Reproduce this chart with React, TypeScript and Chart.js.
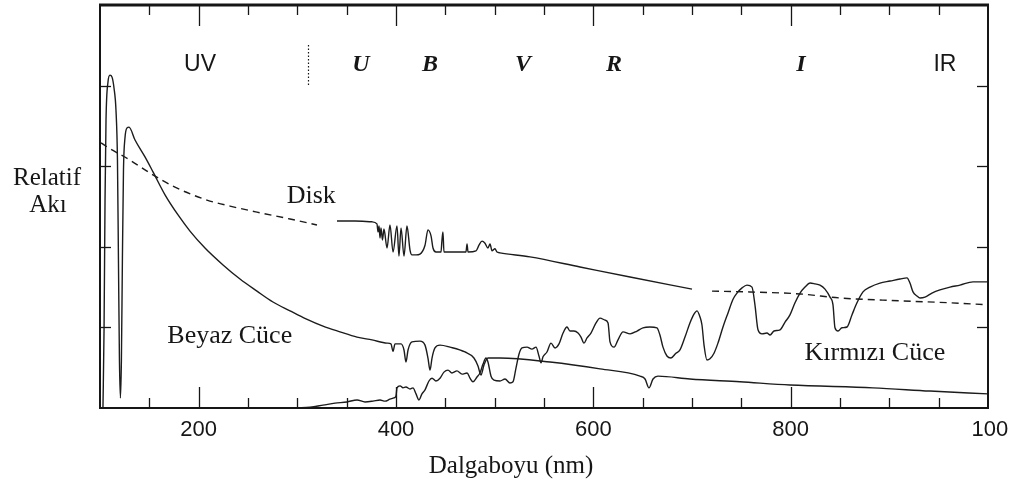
import { useEffect, useRef } from "react";
import { Chart, registerables } from "chart.js";

Chart.register(...registerables);

// Wavelength (nm) and relative flux for the white dwarf spectrum
const whiteDwarfNm = [
  103.0, 104.1, 105.1, 106.1, 108.1, 110.1, 112.2, 114.2, 116.2, 117.7, 118.7, 119.7, 120.7,
  121.7, 122.7, 123.8, 125.3, 127.4, 129.4, 135.5, 145.6, 153.7, 165.9, 179.1, 191.2, 206.4,
  224.7, 241.9, 259.1, 275.3, 292.6, 308.8, 326.0, 343.2, 360.5, 375.7, 390.9, 394.9, 397.0,
  399.0, 405.1, 408.1, 410.1, 412.2, 416.2, 424.3, 429.4, 432.4, 434.5, 436.5, 439.5, 444.6,
  454.7, 469.9, 479.0, 483.1, 486.1, 489.2, 493.2, 505.4, 556.1, 606.8, 647.3, 652.4, 656.4,
  660.5, 665.5, 697.9, 748.6, 799.3, 883.4, 941.2, 1000.0,
];
const whiteDwarfFlux = [
  0, 19.4, 51.6, 71.5, 80.9, 82.6, 82.1, 79.4, 73.9, 61.5, 36.7, 11.9, 2.5,
  11.9, 36.7, 59.1, 67.0, 69.5, 69.7, 66.5, 62.3, 58.6, 52.9, 47.9, 43.9, 39.7,
  35.5, 32.0, 29.0, 26.3, 24.1, 22.1, 20.3, 18.9, 17.6, 16.9, 16.1, 15.9, 14.1,
  15.9, 15.9, 14.4, 11.4, 14.4, 16.4, 16.6, 15.6, 12.4, 9.4, 12.4, 14.9, 15.6,
  15.1, 13.9, 12.4, 10.4, 8.2, 10.7, 12.4, 12.4, 11.4, 9.7, 7.9, 7.2, 5.0,
  7.2, 7.9, 7.2, 6.5, 5.7, 5.0, 4.2, 3.5,
];

// Disk: extrapolated ultraviolet part (dashed)
const diskUvNm = [101.0, 107.1, 130.4, 150.7, 176.0, 208.4, 231.8, 259.1, 292.6, 319.9];
const diskUvFlux = [65.8, 64.8, 61.5, 58.3, 54.8, 51.6, 50.1, 48.6, 46.9, 45.4];

// Disk: measured optical part (solid)
const diskOptNm = [
  340.2, 358.4, 375.7, 380.7, 381.8, 382.8, 383.8, 384.8, 386.3, 387.8, 390.9, 393.9, 397.0,
  401.0, 403.0, 405.1, 408.1, 411.1, 414.2, 416.2, 420.3, 424.3, 429.4, 432.4, 435.5, 437.5,
  440.5, 445.6, 446.6, 447.6, 448.6, 470.9, 472.0, 473.0, 481.1, 484.1, 487.2, 490.2, 493.2,
  495.3, 497.3, 500.3, 502.4, 505.4, 535.8, 586.5, 637.2, 700.0,
];
const diskOptFlux = [
  46.4, 46.4, 46.2, 45.7, 43.7, 45.2, 42.2, 44.7, 41.7, 44.4, 39.7, 45.4, 38.7,
  45.2, 37.7, 44.7, 37.7, 45.2, 39.2, 38.0, 38.0, 38.2, 40.4, 44.2, 42.7, 39.7,
  38.7, 38.7, 41.7, 43.7, 38.7, 38.7, 40.7, 38.7, 39.0, 40.4, 41.4, 40.9, 39.7,
  40.7, 39.0, 39.5, 38.7, 38.5, 37.5, 35.0, 32.5, 29.5,
];

// Disk: extrapolated infrared part (dashed)
const diskIrNm = [720.3, 758.8, 809.5, 850.0, 910.8, 961.5, 1000.0];
const diskIrFlux = [29.0, 28.8, 28.3, 27.3, 26.6, 26.1, 25.6];

// Red dwarf spectrum
const redDwarfNm = [
  299.7, 312.8, 326.0, 338.2, 350.3, 360.5, 368.6, 376.7, 383.8, 388.9, 393.9, 398.0, 400.0,
  401.0, 404.1, 407.1, 410.1, 414.2, 417.2, 420.3, 423.3, 426.3, 429.4, 433.4, 436.5, 440.5,
  444.6, 448.6, 452.7, 456.7, 461.8, 466.9, 472.0, 475.0, 478.0, 482.1, 485.1, 488.2, 491.2,
  493.2, 496.3, 499.3, 505.4, 510.5, 515.5, 518.6, 521.6, 524.7, 527.7, 532.8, 537.8, 541.9,
  544.9, 547.0, 549.0, 553.0, 557.1, 561.2, 565.2, 569.3, 573.3, 576.3, 580.4, 584.5, 587.5,
  590.5, 593.6, 597.6, 602.7, 606.8, 611.8, 614.9, 616.9, 621.0, 625.0, 630.1, 637.2, 644.3,
  650.3, 657.4, 664.5, 667.5, 670.6, 674.6, 678.7, 683.7, 687.8, 692.9, 697.9, 702.0, 705.1,
  708.1, 710.1, 712.2, 715.2, 718.2, 722.3, 726.3, 731.4, 736.5, 741.6, 745.6, 750.7, 755.7,
  760.8, 763.8, 766.9, 770.9, 776.0, 779.1, 783.1, 789.2, 794.3, 799.3, 804.4, 809.5, 814.5,
  819.6, 824.7, 829.7, 834.8, 839.9, 842.9, 844.9, 848.0, 852.0, 857.1, 862.1, 867.2, 873.3,
  880.4, 890.5, 900.7, 910.8, 917.9, 920.9, 924.0, 928.0, 931.1, 936.1, 943.2, 951.3, 961.5,
  971.6, 984.8, 1000.0,
];
const redDwarfFlux = [
  0, 0.2, 0.7, 1.2, 1.5, 2.0, 1.5, 1.7, 2.0, 1.7, 2.2, 2.5, 3.0,
  5.0, 5.5, 5.0, 5.2, 4.7, 5.0, 3.5, 2.0, 3.5, 4.5, 6.7, 7.4, 6.7,
  7.4, 8.9, 9.4, 8.7, 9.2, 8.4, 8.7, 7.4, 6.5, 7.7, 8.7, 10.9, 12.4,
  11.4, 7.9, 6.9, 6.7, 7.2, 6.2, 6.5, 9.9, 13.4, 14.9, 15.1, 14.6, 15.1,
  12.9, 11.2, 12.7, 13.9, 16.1, 14.9, 15.9, 18.6, 20.1, 19.1, 19.1, 18.6, 17.6,
  16.1, 17.4, 18.6, 21.1, 22.3, 21.8, 21.1, 16.4, 15.1, 16.9, 18.9, 18.4, 19.1,
  19.9, 20.1, 19.9, 18.1, 15.1, 12.9, 12.4, 13.6, 14.4, 17.6, 21.1, 23.3, 24.1,
  22.6, 20.6, 15.6, 11.9, 12.2, 13.6, 16.1, 20.1, 23.6, 27.0, 28.5, 29.8, 30.5,
  30.0, 25.6, 19.4, 18.4, 18.6, 18.1, 19.1, 19.4, 21.3, 23.1, 26.1, 28.5, 30.0,
  31.0, 30.8, 30.5, 29.5, 27.5, 25.6, 19.9, 19.1, 19.9, 20.1, 23.1, 26.1, 28.8,
  30.0, 31.0, 31.5, 32.0, 32.3, 31.0, 28.8, 27.8, 27.3, 27.5, 28.5, 29.3, 30.0,
  30.5, 31.3, 31.3,
];

// Axes
const xMin = 100;
const xMax = 1000;
const yMin = 0;
const yMax = 100;
const xMinorTicks = [150, 250, 300, 350, 450, 500, 550, 650, 700, 750, 850, 900, 950];
const xMajorTicks = [200, 400, 600, 800];
const xLabelValues = [200, 400, 600, 800, 1000];
const xTickLabels = ["200", "400", "600", "800", "1000"];
const yTicks = [20, 40, 60, 80];
const xTitle = "Dalgaboyu (nm)";
const yTitle = ["Relatif", "Akı"];

// Photometric bands across the top (centre wavelength in nm)
const bandNames = ["UV", "U", "B", "V", "R", "I", "IR"];
const bandCenters = [201.4, 364.5, 434.5, 528.7, 620.9, 810.5, 956.4];
const uvLimitNm = 310.8;

// Curve captions: text and the wavelength/flux where each one starts
const captionTexts = ["Disk", "Beyaz Cüce", "Kırmızı Cüce"];
const captionNm = [289.2, 168.2, 814.0];
const captionFlux = [50.8, 16.1, 11.9];

const toPoints = (xs: number[], ys: number[]) => xs.map((x, i) => ({ x, y: ys[i] }));

const INK = "#161616";
const SERIF = "'Liberation Serif', 'Times New Roman', serif";
const SANS = "'Liberation Sans', Arial, sans-serif";

const decorPlugin = {
  id: "spectrumDecor",
  afterDraw(chart: any) {
    const { ctx, chartArea: a, scales } = chart;
    const xs = scales.x;
    const ys = scales.y;
    ctx.save();
    ctx.strokeStyle = INK;
    ctx.fillStyle = INK;

    // inward ticks on all four sides
    ctx.lineWidth = 1.3;
    const tick = (x1: number, y1: number, x2: number, y2: number) => {
      ctx.beginPath();
      ctx.moveTo(x1, y1);
      ctx.lineTo(x2, y2);
      ctx.stroke();
    };
    xMinorTicks.forEach((v) => {
      const px = Math.round(xs.getPixelForValue(v)) + 0.5;
      tick(px, a.top, px, a.top + 10);
      tick(px, a.bottom, px, a.bottom - 10);
    });
    xMajorTicks.forEach((v) => {
      const px = Math.round(xs.getPixelForValue(v)) + 0.5;
      tick(px, a.top, px, a.top + 21);
      tick(px, a.bottom, px, a.bottom - 21);
    });
    yTicks.forEach((v) => {
      const py = Math.round(ys.getPixelForValue(v)) + 0.5;
      tick(a.left, py, a.left + 11, py);
      tick(a.right, py, a.right - 11, py);
    });

    // frame
    ctx.lineWidth = 2;
    ctx.strokeRect(a.left, a.top, a.right - a.left, a.bottom - a.top);
    ctx.lineWidth = 3;
    tick(a.left - 1, a.top, a.right + 1, a.top);

    // x tick labels
    ctx.font = `22px ${SANS}`;
    ctx.textAlign = "center";
    ctx.textBaseline = "alphabetic";
    xLabelValues.forEach((v, i) => {
      let px = xs.getPixelForValue(v);
      if (v === xMax) px += 8;
      ctx.fillText(xTickLabels[i], px, a.bottom + 28);
    });

    // axis titles
    ctx.font = `25px ${SERIF}`;
    ctx.fillText(xTitle, (a.left + a.right) / 2 - 33, a.bottom + 65);
    ctx.fillText(yTitle[0], 47, 185);
    ctx.fillText(yTitle[1], 48, 212);

    // band separator
    ctx.lineWidth = 1.2;
    ctx.setLineDash([1.5, 2]);
    const sx = Math.round(xs.getPixelForValue(uvLimitNm)) + 0.5;
    tick(sx, a.top + 40, sx, a.top + 80);
    ctx.setLineDash([]);

    // band names
    bandNames.forEach((name, i) => {
      const px = xs.getPixelForValue(bandCenters[i]);
      if (name.length > 1) {
        ctx.font = `23px ${SANS}`;
      } else {
        ctx.font = `italic bold 24px ${SERIF}`;
      }
      ctx.fillText(name, px, a.top + 66);
    });

    // curve captions
    ctx.font = `26px ${SERIF}`;
    ctx.textAlign = "left";
    captionTexts.forEach((t, i) => {
      ctx.fillText(t, xs.getPixelForValue(captionNm[i]), ys.getPixelForValue(captionFlux[i]));
    });
    ctx.restore();
  },
};

export default function App() {
  const canvasRef = useRef<HTMLCanvasElement | null>(null);

  useEffect(() => {
    const canvas = canvasRef.current;
    if (!canvas) return;
    const line = (data: { x: number; y: number }[], dashed: boolean) => ({
      data,
      borderColor: "#1c1c1c",
      borderWidth: 1.4,
      borderDash: dashed ? [7, 5] : [],
      pointRadius: 0,
      cubicInterpolationMode: "monotone" as const,
      fill: false,
    });
    const chart = new Chart(canvas, {
      type: "line",
      data: {
        datasets: [
          line(toPoints(whiteDwarfNm, whiteDwarfFlux), false),
          line(toPoints(diskUvNm, diskUvFlux), true),
          line(toPoints(diskOptNm, diskOptFlux), false),
          line(toPoints(diskIrNm, diskIrFlux), true),
          line(toPoints(redDwarfNm, redDwarfFlux), false),
        ],
      },
      options: {
        animation: false,
        responsive: false,
        devicePixelRatio: 1,
        layout: { padding: { left: 100, right: 21, top: 5, bottom: 73 } },
        plugins: { legend: { display: false }, tooltip: { enabled: false } },
        scales: {
          x: { type: "linear", min: xMin, max: xMax, display: false },
          y: { type: "linear", min: yMin, max: yMax, display: false },
        },
      },
      plugins: [decorPlugin],
    });
    return () => chart.destroy();
  }, []);

  return (
    <div
      style={{
        position: "fixed",
        left: 0,
        top: 0,
        width: 1009,
        height: 481,
        overflow: "hidden",
        background: "#fff",
      }}
    >
      <canvas ref={canvasRef} width={1009} height={481} style={{ display: "block" }} />
    </div>
  );
}
